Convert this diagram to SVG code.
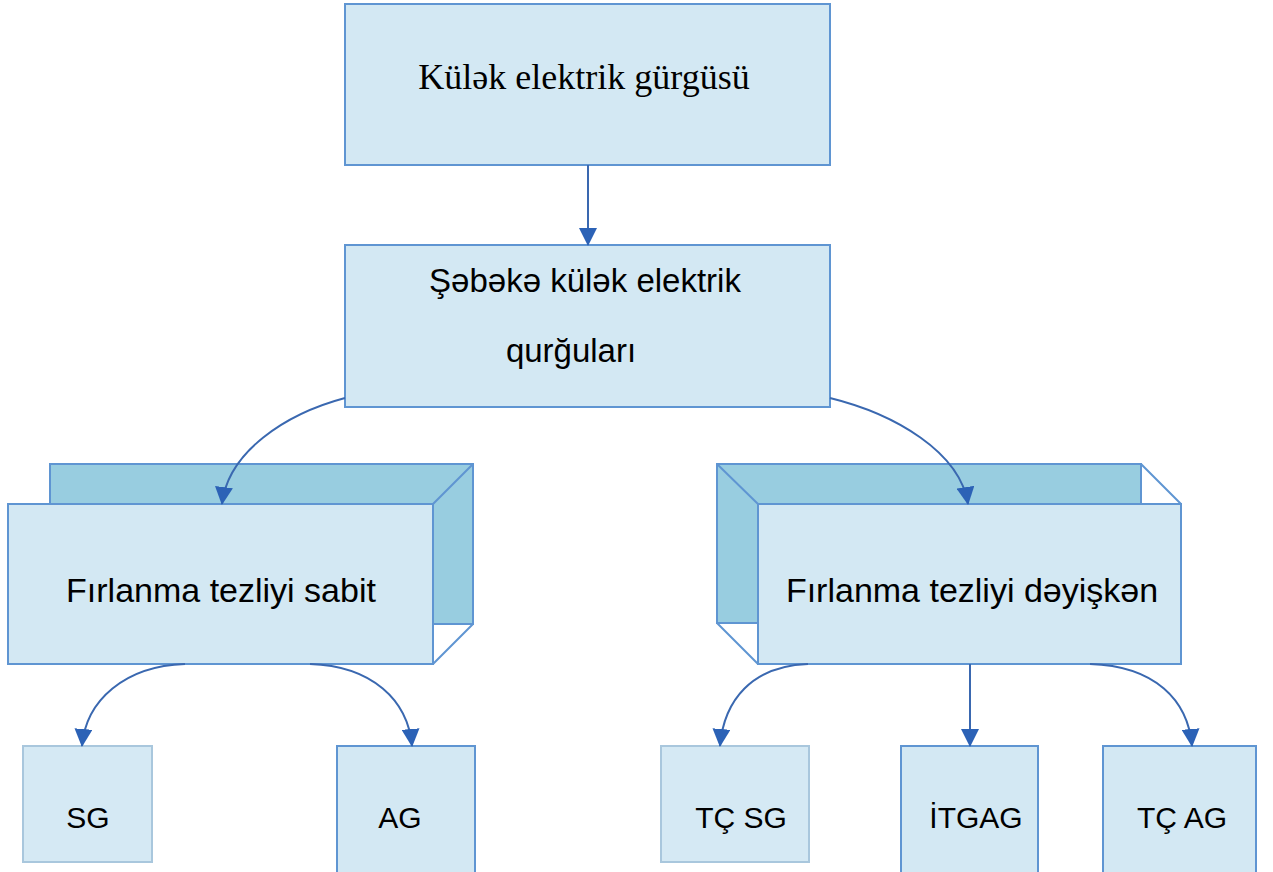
<svg xmlns="http://www.w3.org/2000/svg" width="1273" height="872" viewBox="0 0 1273 872">
<defs>
<style>
.box{fill:#d3e8f3;stroke:#5f95d2;stroke-width:2}
.boxl{fill:#d5e9f4;stroke:#a9c7dd;stroke-width:2}
.back{fill:#98cde0;stroke:#5f95d2;stroke-width:2}
.edge{fill:none;stroke:#5f95d2;stroke-width:2}
.conn{fill:none;stroke:#3a68b0;stroke-width:2;marker-end:url(#ah)}
.t{font-family:"Liberation Sans",Arial,sans-serif;fill:#000;text-anchor:middle}
.serif{font-family:"Liberation Serif","Times New Roman",serif;fill:#000;text-anchor:middle}
</style>
<marker id="ah" markerUnits="userSpaceOnUse" markerWidth="18" markerHeight="18" refX="17" refY="9" orient="auto">
<path d="M0,0 L18,9 L0,18 z" fill="#2c62b6"/>
</marker>
</defs>
<rect width="1273" height="872" fill="#fff"/>

<g id="node-top">
<rect class="box" x="345" y="4" width="485" height="161"/>
<text class="serif" x="584" y="89" font-size="36">Külək elektrik gürgüsü</text>
</g>

<g id="node-network">
<rect class="box" x="345" y="245" width="485" height="162"/>
<text class="t" x="585" y="292" font-size="33">Şəbəkə külək elektrik</text>
<text class="t" x="571" y="362" font-size="33">qurğuları</text>
</g>

<g id="node-fixed">
<rect class="back" x="50" y="464" width="423" height="160"/>
<rect class="box" x="8" y="504" width="425" height="160"/>
<path class="edge" d="M433,504 L473,464 M433,664 L473,624"/>
<text class="t" x="221" y="602" font-size="34">Fırlanma tezliyi sabit</text>
</g>

<g id="node-variable">
<rect class="back" x="717" y="464" width="424" height="159"/>
<rect class="box" x="758" y="504" width="423" height="160"/>
<path class="edge" d="M717,464 L758,504 M717,623 L758,664 M1141,464 L1181,504"/>
<text class="t" x="972" y="602" font-size="34">Fırlanma tezliyi dəyişkən</text>
</g>

<g id="node-sg">
<rect class="boxl" x="23" y="746" width="129" height="116"/>
<text class="t" x="88" y="828" font-size="30">SG</text>
</g>

<g id="node-ag">
<rect class="box" x="337" y="746" width="138" height="140"/>
<text class="t" x="400" y="828" font-size="30">AG</text>
</g>

<g id="node-tcsg">
<rect class="boxl" x="661" y="746" width="148" height="116"/>
<text class="t" x="741" y="828" font-size="30">TÇ SG</text>
</g>

<g id="node-itgag">
<rect class="box" x="901" y="746" width="137" height="140"/>
<text class="t" x="976" y="828" font-size="30">İTGAG</text>
</g>

<g id="node-tcag">
<rect class="box" x="1103" y="746" width="153" height="140"/>
<text class="t" x="1182" y="828" font-size="30">TÇ AG</text>
</g>

<g id="connectors">
<path class="conn" d="M588,165 L588,245"/>
<path class="conn" d="M345,398 C285,414 228,452 222,504"/>
<path class="conn" d="M830,398 C895,414 960,452 968,504"/>
<path class="conn" d="M185,664 C125,666 86,700 82,746"/>
<path class="conn" d="M310,664 C372,666 408,700 412,746"/>
<path class="conn" d="M808,664 C752,666 724,700 720,746"/>
<path class="conn" d="M970,664 L970,746"/>
<path class="conn" d="M1090,664 C1155,666 1188,700 1192,746"/>
</g>
</svg>
